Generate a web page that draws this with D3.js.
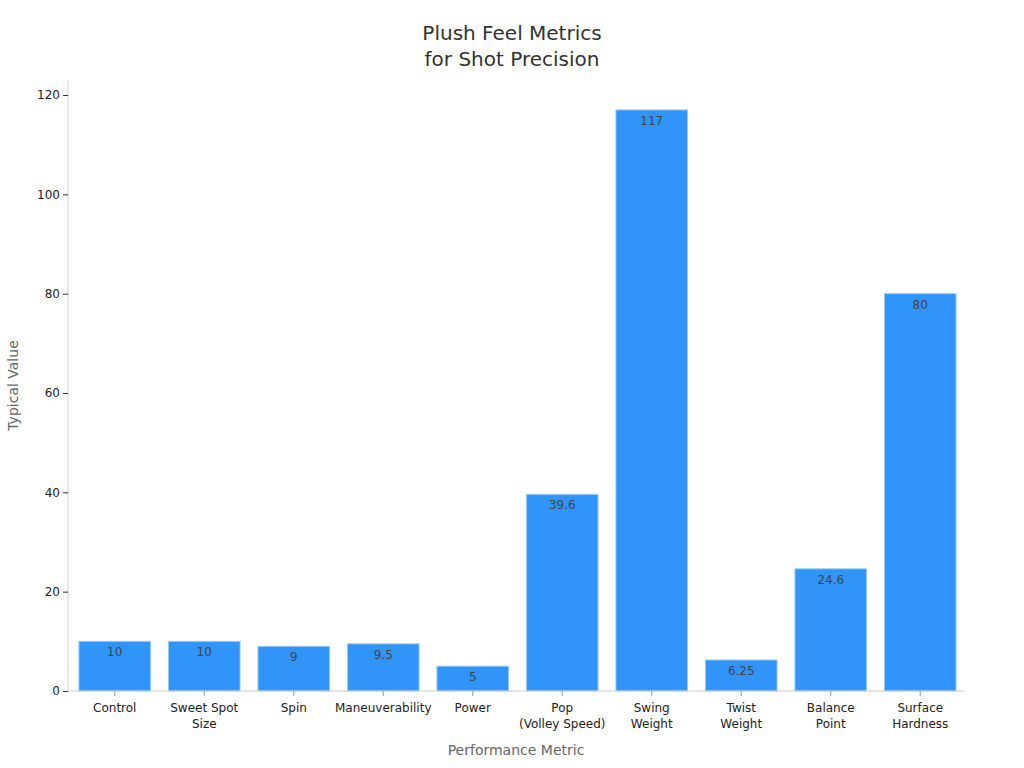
<!DOCTYPE html>
<html>
<head>
<meta charset="utf-8">
<script src="https://cdn.jsdelivr.net/npm/d3@7"></script>
<style>
  body { margin: 0; background: #fff; }
  svg { font-family: "DejaVu Sans", sans-serif; }
</style>
</head>
<body>
<div id="container"></div>
<script>
/* DATA */
const categories = ["Control", "Sweet Spot\nSize", "Spin", "Maneuverability", "Power",
  "Pop\n(Volley Speed)", "Swing\nWeight", "Twist\nWeight", "Balance\nPoint", "Surface\nHardness"];
const values = [10, 10, 9, 9.5, 5, 39.6, 117, 6.25, 24.6, 80];
const valueLabels = ["10", "10", "9", "9.5", "5", "39.6", "117", "6.25", "24.6", "80"];
const yTicks = [0, 20, 40, 60, 80, 100, 120];

/* CONSTANTS */
const width = 1024,
  height = 768,
  margin = { top: 80, bottom: 77, left: 68, right: 60 };

const svg = d3.select("#container")
  .append("svg")
  .attr("width", width)
  .attr("height", height);

// SCALES
const x = d3.scaleBand()
  .domain(d3.range(categories.length))
  .range([margin.left + 2, width - margin.right + 1])
  .paddingInner(0.2)
  .paddingOuter(0.1);

const y = d3.scaleLinear()
  .domain([0, 120])
  .range([height - margin.bottom, 95]);

// TITLE
svg.append("text")
  .attr("x", 512)
  .attr("text-anchor", "middle")
  .style("font-size", "20px")
  .style("fill", "#333")
  .selectAll("tspan")
  .data(["Plush Feel Metrics", "for Shot Precision"])
  .join("tspan")
  .attr("x", 512)
  .attr("y", (d, i) => 40 + i * 26)
  .text(d => d);

// BARS
svg.selectAll("rect.bar")
  .data(values)
  .join("rect")
  .attr("class", "bar")
  .attr("x", (d, i) => x(i))
  .attr("y", d => y(d))
  .attr("width", x.bandwidth())
  .attr("height", d => y(0) - y(d))
  .attr("fill", "#3094f8")
  .attr("stroke", "#9ccaf6")
  .attr("stroke-width", 1);

svg.selectAll("text.value")
  .data(values)
  .join("text")
  .attr("class", "value")
  .attr("x", (d, i) => x(i) + x.bandwidth() / 2)
  .attr("y", d => y(d) + 15)
  .attr("text-anchor", "middle")
  .style("font-size", "12px")
  .style("fill", "#444")
  .text((d, i) => valueLabels[i]);

// Y AXIS
const yAxis = svg.append("g")
  .attr("transform", `translate(${margin.left},0)`)
  .call(d3.axisLeft(y).tickValues(yTicks).tickSize(5).tickPadding(3));
yAxis.select(".domain").attr("stroke", "#ccc").attr("d", `M0,${margin.top}V${y(0)}`);
yAxis.selectAll(".tick line").attr("stroke", "#333");
yAxis.selectAll(".tick text").style("font-size", "12px").style("fill", "#222").style("font-family", "DejaVu Sans");

// X AXIS
const xAxis = svg.append("g")
  .attr("transform", `translate(0,${y(0)})`)
  .call(d3.axisBottom(x).tickSize(5).tickFormat(""));
xAxis.select(".domain").attr("stroke", "#ccc").attr("d", `M${margin.left},0H${width - margin.right}`);
xAxis.selectAll(".tick line").attr("stroke", "#999");

xAxis.selectAll(".tick")
  .append("text")
  .attr("text-anchor", "middle")
  .style("font-size", "12px")
  .style("fill", "#222")
  .style("font-family", "DejaVu Sans")
  .selectAll("tspan")
  .data(d => categories[d].split("\n"))
  .join("tspan")
  .attr("x", 0)
  .attr("y", (d, i) => 21 + i * 16)
  .text(d => d);

// AXIS TITLES
svg.append("text")
  .attr("x", 516)
  .attr("y", 755)
  .attr("text-anchor", "middle")
  .style("font-size", "14px")
  .style("fill", "#666")
  .text("Performance Metric");

svg.append("text")
  .attr("transform", `translate(18,${(margin.top + y(0)) / 2}) rotate(-90)`)
  .attr("text-anchor", "middle")
  .style("font-size", "14px")
  .style("fill", "#666")
  .text("Typical Value");
</script>
</body>
</html>
